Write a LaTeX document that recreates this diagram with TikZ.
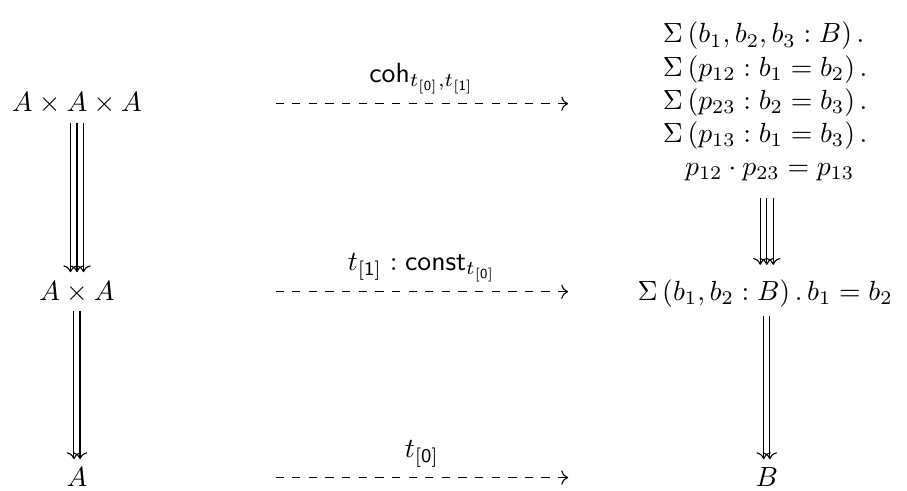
\documentclass[tikz,border=0pt]{standalone}
\usepackage{amsmath}
\usepackage{tikz}
\usetikzlibrary{arrows.meta,calc}
\tikzset{
  obj/.style={anchor=base, inner sep=3pt},
  blk/.style={align=left, inner sep=3pt},
  map/.style={->, dashed, shorten <=2.52cm, shorten >=2.52cm},
  cell/.style={->}
}

\begin{document}
\begin{tikzpicture}
  \useasboundingbox (0,0) rectangle (11.51,-6.23);
  \node[obj] (aaa) at (0.977,-1.421) {$A \times A \times A$};
  \node[obj] (aa) at (0.977,-3.807) {$A \times A$};
  \node[obj] (a) at (0.977,-6.180) {$A$};
  \node[blk] (s3) at (9.71,-1.29) {$\Sigma\,(b_1, b_2, b_3 : B)\,.$\\
    $\Sigma\,(p_{12} : b_1 = b_2)\,.$\\
    $\Sigma\,(p_{23} : b_2 = b_3)\,.$\\
    $\Sigma\,(p_{13} : b_1 = b_3)\,.$\\
    \hspace{0.8em}$p_{12} \cdot p_{23} = p_{13}$};
  \node[obj] (s2) at (9.71,-3.807) {$\Sigma\,(b_1, b_2 : B)\,.\,b_1 = b_2$};
  \node[obj] (b) at (9.73,-6.180) {$B$};
  \draw[map] (aaa.center) -- (aaa.center -| b)
    node[midway, above] {$\mathsf{coh}_{t_{\mathsf{[0]}}, t_{\mathsf{[1]}}}$};
  \draw[map] (aa.center) -- (aa.center -| b)
    node[midway, above] {$t_{\mathsf{[1]}} : \mathsf{const}_{t_{\mathsf{[0]}}}$};
  \draw[map] (a.center) -- (a.center -| b)
    node[midway, above] {$t_{\mathsf{[0]}}$};
  \foreach \d in {-2.35pt,0pt,2.35pt} {
    \draw[cell] ([xshift=\d]aaa.south) -- ([xshift=\d]aa.north);
    \draw[cell, shorten <=3pt, shorten >=2pt] ([xshift=\d]s3.south -| b) -- ([xshift=\d]s2.north -| b);
  }
  \foreach \d in {-1.1pt,1.1pt} {
    \draw[cell] ([xshift=\d]aa.south) -- ([xshift=\d]a.north);
    \draw[cell] ([xshift=\d]s2.south -| b) -- ([xshift=\d]b.north);
  }
\end{tikzpicture}
\end{document}
